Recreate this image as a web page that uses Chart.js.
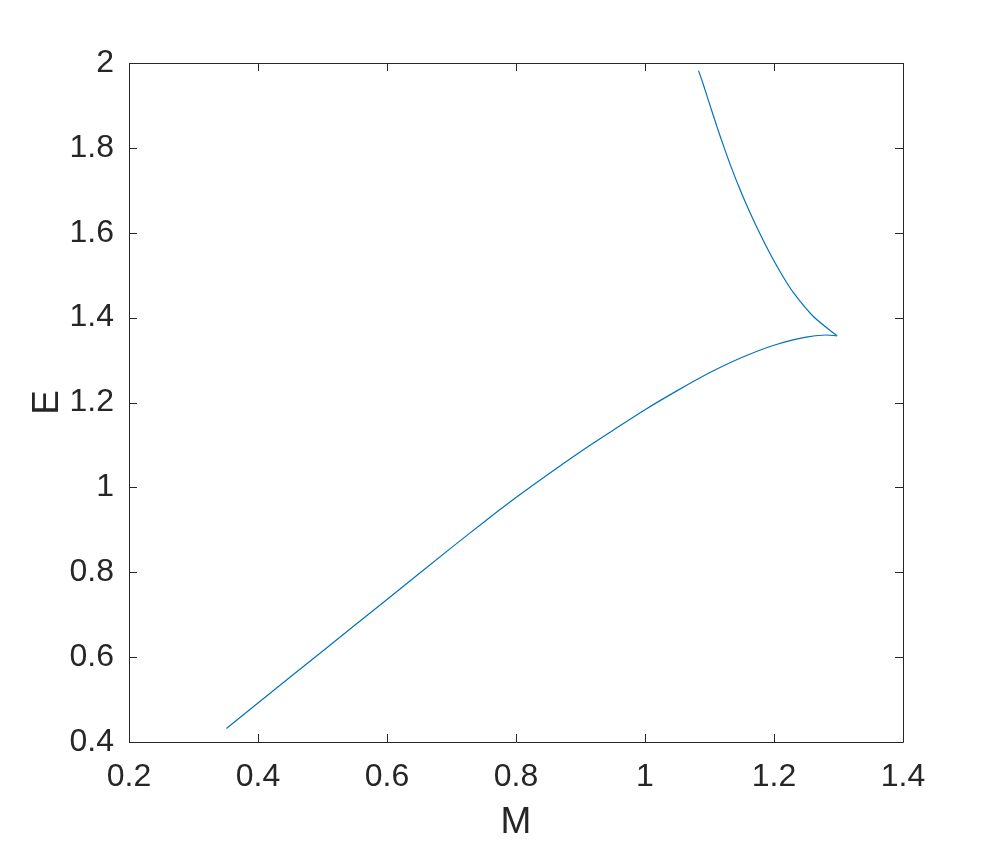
<!DOCTYPE html>
<html><head><meta charset="utf-8">
<script src="https://cdn.jsdelivr.net/npm/chart.js@4"></script>
<style>html,body{margin:0;padding:0;background:#fff;}#wrap{width:997px;height:847px;}</style>
</head><body><div id="wrap"><canvas id="c" width="997" height="847"></canvas></div>
<script>
// Lower branch of E(M)
const lowerM = [0.351,0.40,0.50,0.60,0.70,0.75,0.80,0.85,0.90,0.95,1.00,1.05,1.10,1.15,1.20,1.25,1.28,1.2978];
const lowerE = [0.432,0.492,0.614,0.736,0.858,0.918,0.976,1.031,1.084,1.134,1.183,1.228,1.270,1.306,1.335,1.354,1.359,1.357];
// Upper branch of E(M)
const upperM = [1.2978,1.2615,1.2310,1.2127,1.1942,1.1775,1.1620,1.1478,1.1348,1.1228,1.1115,1.1008,1.0903,1.0830];
const upperE = [1.357,1.402,1.457,1.500,1.550,1.600,1.650,1.700,1.750,1.800,1.850,1.900,1.950,1.982];
const xTicks = [0.2,0.4,0.6,0.8,1,1.2,1.4];
const yTicks = [0.4,0.6,0.8,1,1.2,1.4,1.6,1.8,2];

const toPts = (xs, ys) => xs.map((x,i)=>({x:x,y:ys[i]}));
const FONT = "'Liberation Sans', Arial, sans-serif";
const AX = '#262626';

const boxPlugin = {
  id:'box',
  afterDraw(chart){
    const {ctx, chartArea:a, scales:{x,y}} = chart;
    ctx.save();
    ctx.strokeStyle = AX; ctx.lineWidth = 1;
    ctx.beginPath();
    ctx.rect(Math.round(a.left)+0.5, Math.round(a.top)+0.5, Math.round(a.right-a.left), Math.round(a.bottom-a.top));
    ctx.stroke();
    const L = 8;
    ctx.beginPath();
    xTicks.forEach(v=>{
      const px = Math.round(x.getPixelForValue(v))+0.5;
      ctx.moveTo(px, a.bottom); ctx.lineTo(px, a.bottom-L);
      ctx.moveTo(px, a.top); ctx.lineTo(px, a.top+L);
    });
    yTicks.forEach(v=>{
      const py = Math.round(y.getPixelForValue(v))+0.5;
      ctx.moveTo(a.left, py); ctx.lineTo(a.left+L, py);
      ctx.moveTo(a.right, py); ctx.lineTo(a.right-L, py);
    });
    ctx.stroke();
    ctx.restore();
  }
};

new Chart(document.getElementById('c'), {
  type:'scatter',
  data:{datasets:[
    {data:toPts(lowerM,lowerE), showLine:true, borderColor:'#0072BD', borderWidth:1.2, pointRadius:0, tension:0.3, fill:false},
    {data:toPts(upperM,upperE), showLine:true, borderColor:'#0072BD', borderWidth:1.2, pointRadius:0, tension:0.3, fill:false}
  ]},
  options:{
    responsive:false, animation:false,
    layout:{padding:{left:0,right:94,top:63,bottom:0}},
    plugins:{legend:{display:false}, tooltip:{enabled:false}},
    scales:{
      x:{type:'linear', min:0.2, max:1.4,
        afterBuildTicks: s => { s.ticks = xTicks.map(v=>({value:v})); },
        afterFit: s => { s.height = 105; },
        grid:{display:false, drawTicks:false}, border:{display:false},
        ticks:{padding:16, color:AX, font:{family:FONT, size:32}, callback:v=>String(+(+v).toFixed(1))},
        title:{display:true, text:'M', color:AX, font:{family:FONT, size:37}, padding:{top:0,bottom:2}}
      },
      y:{type:'linear', min:0.4, max:2,
        afterBuildTicks: s => { s.ticks = yTicks.map(v=>({value:v})); },
        afterFit: s => { s.width = 129; },
        grid:{display:false, drawTicks:false}, border:{display:false},
        ticks:{padding:15, color:AX, font:{family:FONT, size:32}, callback:v=>String(+(+v).toFixed(1))},
        title:{display:true, text:'E', color:AX, font:{family:FONT, size:37}, padding:{top:26,bottom:0}}
      }
    }
  },
  plugins:[boxPlugin]
});
</script></body></html>
